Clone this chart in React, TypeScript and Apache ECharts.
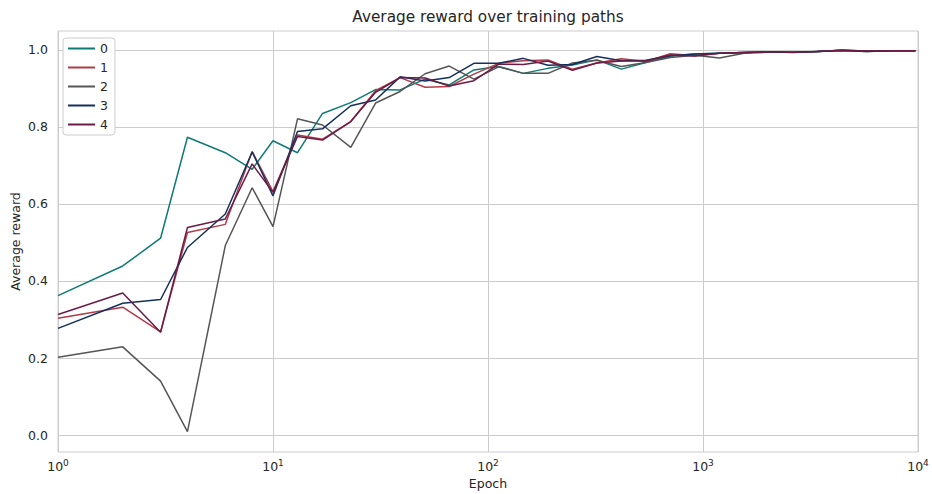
import React, { useEffect, useRef } from "react";
import * as echarts from "echarts";

const epochs = [1, 2, 3, 4, 6, 8, 10, 13, 17, 23, 30, 39, 51, 66, 86, 112, 146, 190, 247, 321, 417, 542, 705, 917, 1192, 1550, 2015, 2619, 3405, 4427, 5756, 7482, 9727];

const series0 = [0.362, 0.439, 0.511, 0.773, 0.733, 0.690, 0.764, 0.733, 0.835, 0.863, 0.897, 0.896, 0.924, 0.909, 0.948, 0.957, 0.939, 0.952, 0.961, 0.974, 0.950, 0.967, 0.984, 0.989, 0.991, 0.993, 0.995, 0.994, 0.996, 0.999, 0.997, 0.998, 0.998];
const series1 = [0.303, 0.332, 0.268, 0.526, 0.547, 0.736, 0.632, 0.779, 0.768, 0.814, 0.894, 0.928, 0.903, 0.905, 0.937, 0.965, 0.972, 0.974, 0.950, 0.966, 0.977, 0.970, 0.990, 0.985, 0.991, 0.993, 0.995, 0.994, 0.996, 0.999, 0.997, 0.998, 0.998];
const series2 = [0.202, 0.229, 0.140, 0.009, 0.492, 0.642, 0.541, 0.821, 0.805, 0.747, 0.862, 0.892, 0.938, 0.958, 0.924, 0.956, 0.939, 0.939, 0.966, 0.973, 0.957, 0.967, 0.980, 0.986, 0.979, 0.991, 0.994, 0.994, 0.996, 0.998, 0.996, 0.998, 0.998];
const series3 = [0.277, 0.342, 0.352, 0.487, 0.574, 0.735, 0.621, 0.788, 0.795, 0.855, 0.870, 0.930, 0.919, 0.928, 0.965, 0.965, 0.978, 0.960, 0.962, 0.983, 0.972, 0.973, 0.985, 0.989, 0.991, 0.993, 0.995, 0.993, 0.996, 0.999, 0.996, 0.998, 0.998];
const series4 = [0.313, 0.369, 0.267, 0.539, 0.561, 0.704, 0.630, 0.775, 0.766, 0.814, 0.890, 0.928, 0.927, 0.906, 0.920, 0.963, 0.962, 0.971, 0.947, 0.966, 0.971, 0.971, 0.987, 0.984, 0.991, 0.993, 0.995, 0.994, 0.996, 0.999, 0.997, 0.998, 0.998];

const seriesNames = ["0", "1", "2", "3", "4"];
const seriesValues = [series0, series1, series2, series3, series4];
const colors = ["#0e7a74", "#b23a48", "#555555", "#14305e", "#6b1c46"];
const yTicks = [0, 0.2, 0.4, 0.6, 0.8, 1.0];

const FONT = "DejaVu Sans";
const TXT = "#262626";
const FS = 12.5;

export default function App() {
  const ref = useRef<HTMLDivElement>(null);
  useEffect(() => {
    if (!ref.current) return;
    const chart = echarts.init(ref.current, null, { renderer: "svg" });
    chart.setOption({
      animation: false,
      backgroundColor: "#ffffff",
      color: colors,
      textStyle: { fontFamily: FONT, color: TXT },
      title: {
        text: "Average reward over training paths",
        left: 488,
        textAlign: "center",
        top: 9,
        padding: 0,
        textStyle: { fontFamily: FONT, fontSize: 15.3, fontWeight: "normal", color: TXT },
      },
      legend: {
        left: 63,
        top: 38,
        orient: "vertical",
        icon: "rect",
        itemWidth: 27,
        itemHeight: 2,
        itemGap: 4,
        itemTextGap: 12,
        padding: [3, 7, 3, 5],
        borderColor: "#cccccc",
        borderWidth: 1,
        borderRadius: 3,
        backgroundColor: "#ffffff",
        textStyle: { fontFamily: FONT, fontSize: FS, color: TXT, lineHeight: 15 },
        data: seriesNames,
      },
      grid: {
        left: 58,
        right: 14,
        top: 31,
        bottom: 42,
        containLabel: false,
        outerBoundsMode: "none",
        show: true,
        borderColor: "#cccccc",
        borderWidth: 1,
        backgroundColor: "transparent",
      },
      xAxis: {
        type: "log",
        logBase: 10,
        min: 1,
        max: 10000,
        name: "Epoch",
        nameLocation: "middle",
        nameGap: 25,
        nameMoveOverlap: false,
        nameTextStyle: { fontFamily: FONT, fontSize: FS, color: TXT },
        axisLine: { show: false },
        axisTick: { show: false },
        minorTick: { show: false },
        splitLine: { show: true, lineStyle: { color: "#cccccc", width: 1 } },
        axisLabel: {
          margin: 6,
          formatter: (v: number) => "{b|10}{s|" + Math.round(Math.log10(v)) + "}",
          rich: {
            b: { fontFamily: FONT, fontSize: FS, color: TXT, lineHeight: 17 },
            s: { fontFamily: FONT, fontSize: 9, color: TXT, lineHeight: 10, verticalAlign: "top" },
          },
        },
      },
      yAxis: {
        type: "value",
        min: -0.044,
        max: 1.049,
        name: "Average reward",
        nameLocation: "middle",
        nameGap: 36,
        nameMoveOverlap: false,
        nameTextStyle: { fontFamily: FONT, fontSize: FS, color: TXT },
        axisLine: { show: false },
        axisTick: { show: false, customValues: yTicks },
        splitLine: { show: true, lineStyle: { color: "#cccccc", width: 1 } },
        axisLabel: {
          margin: 10,
          customValues: yTicks,
          fontFamily: FONT,
          fontSize: FS,
          color: TXT,
          formatter: (v: number) => v.toFixed(1),
        },
      },
      series: seriesNames.map((name, i) => ({
        name,
        type: "line",
        symbol: "none",
        data: epochs.map((x, j) => [x, seriesValues[i][j]]),
        lineStyle: { width: 1.5, color: colors[i] },
        itemStyle: { color: colors[i] },
      })),
    });
    return () => chart.dispose();
  }, []);
  return <div ref={ref} style={{ position: "fixed", left: 0, top: 0, width: 932, height: 494 }} />;
}
